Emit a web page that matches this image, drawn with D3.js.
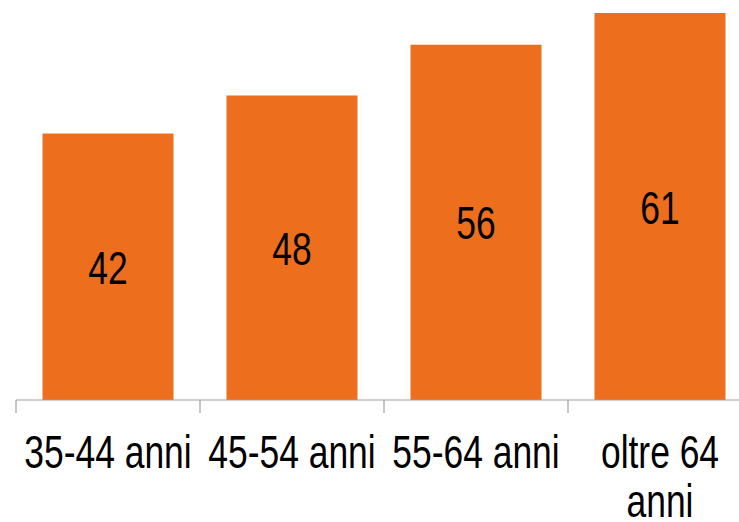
<!DOCTYPE html>
<html>
<head>
<meta charset="utf-8">
<script src="https://cdn.jsdelivr.net/npm/d3@7"></script>
<style>
  body { margin: 0; background: #fff; }
  svg { display: block; }
</style>
</head>
<body>
<script>
// chart values
var categories = ['35-44 anni', '45-54 anni', '55-64 anni', 'oltre 64 anni'];
var values = [42, 48, 56, 61];

var width = 739, height = 522;
var margin = { top: 13, left: 16, bottom: 122 };
var squeeze = 0.77; // labels look horizontally condensed

var svg = d3.select('body').append('svg')
    .attr('width', width)
    .attr('height', height);

var x = d3.scaleBand()
    .domain(categories)
    .range([margin.left, margin.left + 184 * categories.length])
    .paddingInner(0.288)
    .paddingOuter(0.144);

var y = d3.scaleLinear()
    .domain([0, d3.max(values)])
    .range([height - margin.bottom, margin.top]);

var data = categories.map(function(c, i) { return { cat: c, val: values[i] }; });

// bars
svg.append('g')
    .selectAll('rect')
    .data(data)
    .enter()
    .append('rect')
        .attr('x', function(d) { return x(d.cat); })
        .attr('y', function(d) { return y(d.val); })
        .attr('width', x.bandwidth())
        .attr('height', function(d) { return y(0) - y(d.val); })
        .attr('fill', '#ED6F1D');

// value labels, centred in the bar
svg.append('g')
    .selectAll('text')
    .data(data)
    .enter()
    .append('text')
        .attr('transform', function(d) {
            var cx = x(d.cat) + x.bandwidth() / 2;
            var cy = (y(d.val) + y(0)) / 2 + 17;
            return 'translate(' + cx + ',' + cy + ') scale(' + squeeze + ',1)';
        })
        .attr('text-anchor', 'middle')
        .attr('font-family', 'Liberation Sans, Arial, sans-serif')
        .attr('font-size', 46)
        .attr('fill', '#000')
        .text(function(d) { return d.val; });

// x axis
var axis = d3.axisBottom(x)
    .tickSize(13)
    .tickFormat('');

var gx = svg.append('g')
    .attr('transform', 'translate(0,' + y(0) + ')');

gx.append('line')
    .attr('x1', x.range()[0])
    .attr('x2', x.range()[1])
    .attr('stroke', '#A0A0A0')
    .attr('stroke-width', 1.2);

// tick marks sit on band boundaries, not centres
gx.selectAll('.tk')
    .data(d3.range(categories.length + 1))
    .enter()
    .append('line')
        .attr('x1', function(i) { return x.range()[0] + x.step() * i; })
        .attr('x2', function(i) { return x.range()[0] + x.step() * i; })
        .attr('y1', 0)
        .attr('y2', axis.tickSize())
        .attr('stroke', '#A0A0A0')
        .attr('stroke-width', 1.2);

// category labels with wrapping
var maxW = 172;
var measure = svg.append('text')
    .attr('font-family', 'Liberation Sans, Arial, sans-serif')
    .attr('font-size', 46)
    .attr('visibility', 'hidden');

function wrapLines(str) {
    var words = str.split(' ');
    var lines = [], cur = '';
    words.forEach(function(w) {
        var test = cur ? cur + ' ' + w : w;
        measure.text(test);
        if (measure.node().getComputedTextLength() * squeeze > maxW && cur) {
            lines.push(cur);
            cur = w;
        } else {
            cur = test;
        }
    });
    lines.push(cur);
    return lines;
}

var labels = svg.append('g')
    .selectAll('g')
    .data(categories)
    .enter()
    .append('g')
        .attr('transform', function(d) {
            return 'translate(' + (x(d) + x.bandwidth() / 2) + ',' + (y(0) + 68) + ')';
        });

labels.each(function(d) {
    var g = d3.select(this);
    wrapLines(d).forEach(function(line, i) {
        g.append('text')
            .attr('transform', 'translate(0,' + (i * 49) + ') scale(' + squeeze + ',1)')
            .attr('text-anchor', 'middle')
            .attr('font-family', 'Liberation Sans, Arial, sans-serif')
            .attr('font-size', 46)
            .attr('fill', '#000')
            .text(line);
    });
});

measure.remove();
</script>
</body>
</html>
